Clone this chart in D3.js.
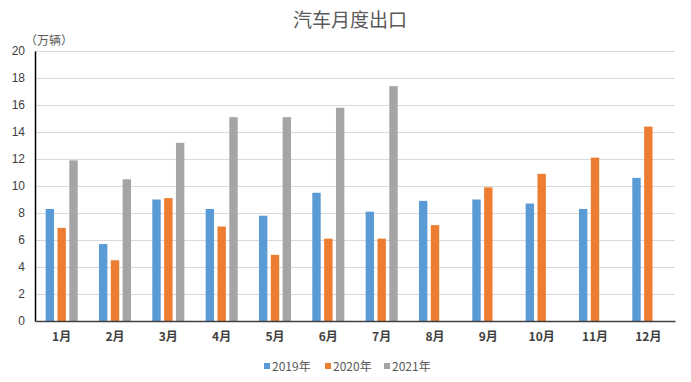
<!DOCTYPE html>
<html>
<head>
<meta charset="utf-8">
<script src="https://cdn.jsdelivr.net/npm/d3@7/dist/d3.min.js"></script>
<style>
  body { margin: 0; background: #fff; }
  text { font-family: "Noto Sans CJK SC", "Noto Sans", sans-serif; }
</style>
</head>
<body>
<svg id="chart" width="691" height="382"></svg>
<script>
// data (万辆)
let months = ["1月","2月","3月","4月","5月","6月","7月","8月","9月","10月","11月","12月"];
let seriesNames = ["2019年","2020年","2021年"];
let v2019 = [8.3, 5.7, 9.0, 8.3, 7.8, 9.5, 8.1, 8.9, 9.0, 8.7, 8.3, 10.6];
let v2020 = [6.9, 4.5, 9.1, 7.0, 4.9, 6.1, 6.1, 7.1, 9.9, 10.9, 12.1, 14.4];
let v2021 = [11.9, 10.5, 13.2, 15.1, 15.1, 15.8, 17.4, null, null, null, null, null];
let yTicks = [0, 2, 4, 6, 8, 10, 12, 14, 16, 18, 20];
let colors = ["#5b9bd5", "#ed7d31", "#a5a5a5"];

let svg = d3.select("#chart");
let plotLeft = 35, plotRight = 675, plotTop = 51, plotBottom = 321;

let x = d3.scaleBand().domain(months).range([plotLeft, plotRight]);
let inner = d3.scaleBand().domain(seriesNames)
	.range([0, x.bandwidth()]).paddingInner(0.29).paddingOuter(0.9);
let y = d3.scaleLinear().domain([0, 20]).range([plotBottom, plotTop]);

// title
svg.append("text")
	.attr("x", 350).attr("y", 27)
	.attr("text-anchor", "middle")
	.style("font-size", "19px")
	.style("fill", "#595959")
	.text("汽车月度出口");

// unit
svg.append("text")
	.attr("x", 25).attr("y", 45)
	.style("font-size", "12px")
	.style("fill", "#595959")
	.text("（万辆）");

// gridlines
svg.append("g")
	.selectAll("line")
	.data(yTicks.filter(d => d > 0))
	.join("line")
	.attr("x1", plotLeft).attr("x2", plotRight)
	.attr("y1", d => Math.round(y(d)) + 0.5)
	.attr("y2", d => Math.round(y(d)) + 0.5)
	.style("stroke", "#d9d9d9")
	.style("stroke-width", 1);

// y axis
let yAxis = svg.append("g")
	.attr("transform", `translate(${plotLeft},0)`)
	.call(d3.axisLeft(y).tickValues(yTicks).tickSize(0).tickPadding(10));
yAxis.select(".domain").style("stroke", "#000").style("stroke-width", 1.5);
yAxis.selectAll("text")
	.style("font-size", "12px")
	.style("fill", "#404040")
	.style("font-family", "'Liberation Sans', sans-serif");

// bars
let allSeries = [v2019, v2020, v2021];
allSeries.forEach((vals, si) => {
	svg.append("g")
		.selectAll("rect")
		.data(months.map((m, i) => ({ m: m, v: vals[i] })).filter(d => d.v !== null))
		.join("rect")
		.attr("x", d => x(d.m) + inner(seriesNames[si]))
		.attr("y", d => y(d.v))
		.attr("width", inner.bandwidth())
		.attr("height", d => y(0) - y(d.v))
		.style("fill", colors[si]);
});

// x axis
let xAxis = svg.append("g")
	.attr("transform", `translate(0,${plotBottom})`)
	.call(d3.axisBottom(x).tickSize(0).tickPadding(11));
xAxis.select(".domain").style("stroke", "#404040").style("stroke-width", 1.5);
xAxis.selectAll("text")
	.style("font-size", "12px")
	.style("fill", "#404040")
	.style("font-weight", "bold");

// legend
let legendX = [264, 325, 384];
let legend = svg.append("g");
seriesNames.forEach((name, i) => {
	legend.append("rect")
		.attr("x", legendX[i]).attr("y", 363)
		.attr("width", 6).attr("height", 6)
		.style("fill", colors[i]);
	legend.append("text")
		.attr("x", legendX[i] + 8).attr("y", 371)
		.style("font-size", "12px")
		.style("fill", "#595959")
		.text(name);
});
</script>
</body>
</html>
